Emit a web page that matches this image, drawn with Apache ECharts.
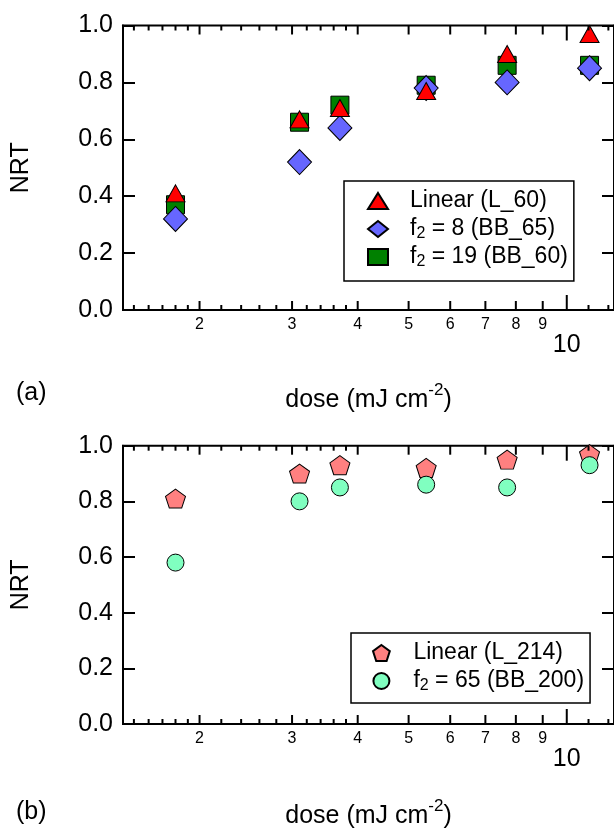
<!DOCTYPE html>
<html>
<head>
<meta charset="utf-8">
<script src="https://cdn.jsdelivr.net/npm/echarts@6/dist/echarts.min.js"></script>
<style>
  html, body { margin: 0; padding: 0; background: #fff; }
  #main { width: 614px; height: 835px; }
</style>
</head>
<body>
<div id="main"></div>
<script>
// doses (mJ cm-2) shared by both panels
var dose = [1.80, 3.10, 3.70, 5.40, 7.70, 11.05]

// panel (a)
var linearL60 = [0.41, 0.67, 0.71, 0.77, 0.90, 0.97]
var bb65 = [0.32, 0.52, 0.64, 0.78, 0.80, 0.85]
var bb60 = [0.37, 0.66, 0.72, 0.79, 0.86, 0.86]

// panel (b)
var linearL214 = [0.81, 0.90, 0.93, 0.92, 0.95, 0.97]
var bb200 = [0.58, 0.80, 0.85, 0.86, 0.85, 0.93]

// log axis ticks
var minorTicks = [1.5, 1.6, 1.7, 1.8, 1.9, 2.2, 2.4, 2.6, 2.8, 3.2, 3.4, 3.6, 3.8, 11, 12]
var majorTicks = [2, 3, 4, 5, 6, 7, 8, 9]
var decadeTicks = [10]

var FONT = 'Liberation Sans, Arial, sans-serif'
var pentagon = 'path://M0,-1 L0.951,-0.309 L0.588,0.809 L-0.588,0.809 L-0.951,-0.309 Z'

function pairs(ys) {
    return dose.map(function (d, i) { return [d, ys[i]] })
}

var tickData = []
minorTicks.forEach(function (v) { tickData.push([v, 0.5, 0]) })
majorTicks.forEach(function (v) { tickData.push([v, 0.5, 1]) })
decadeTicks.forEach(function (v) { tickData.push([v, 0.5, 2]) })

function renderTick(params, api) {
    var v = api.value(0)
    var kind = api.value(2)
    var cs = params.coordSys
    var x = api.coord([v, 0.5])[0]
    var len = kind === 2 ? 15 : (kind === 1 ? 9 : 5)
    var top = cs.y, bot = cs.y + cs.height
    var ls = { stroke: '#000', lineWidth: 2 }
    var children = [
        { type: 'line', shape: { x1: x, y1: bot, x2: x, y2: bot - len }, style: ls },
        { type: 'line', shape: { x1: x, y1: top, x2: x, y2: top + len }, style: ls }
    ]
    if (kind === 1) {
        children.push({ type: 'text', style: { text: String(v), x: x, y: bot + 14.5, fill: '#000', fontSize: 16, fontFamily: FONT, align: 'center', verticalAlign: 'middle' } })
    } else if (kind === 2) {
        children.push({ type: 'text', style: { text: String(v), x: x, y: bot + 35, fill: '#000', fontSize: 25, fontFamily: FONT, align: 'center', verticalAlign: 'middle' } })
    }
    return { type: 'group', children: children }
}

function xAxisFor(i, gap) {
    return {
        type: 'log', gridIndex: i, logBase: 10, min: 1.43, max: 12.3,
        axisLine: { lineStyle: { color: '#000', width: 2 } },
        axisTick: { show: false },
        axisLabel: { show: false },
        splitLine: { show: false },
        name: 'dose (mJ cm{sup|-2})',
        nameLocation: 'middle',
        nameGap: gap,
        nameTextStyle: {
            color: '#000', fontSize: 25, lineHeight: 36, fontFamily: FONT,
            rich: { sup: { fontSize: 17, lineHeight: 14, verticalAlign: 'top', fontFamily: FONT, color: '#000' } }
        }
    }
}

function yAxisLeft(i) {
    return {
        type: 'value', gridIndex: i, min: 0, max: 1, interval: 0.2,
        name: 'NRT', nameLocation: 'middle', nameGap: 89, nameRotate: 90,
        nameTextStyle: { color: '#000', fontSize: 25, fontFamily: FONT },
        axisLine: { show: true, lineStyle: { color: '#000', width: 2 } },
        axisTick: { show: true, inside: true, length: 12, lineStyle: { color: '#000', width: 2 } },
        axisLabel: { color: '#000', fontSize: 25, fontFamily: FONT, margin: 10, formatter: function (v) { return v.toFixed(1) } },
        splitLine: { show: false }
    }
}

function yAxisRight(i) {
    return {
        type: 'value', gridIndex: i, min: 0, max: 1, interval: 0.2, position: 'right',
        axisLine: { show: true, lineStyle: { color: '#000', width: 2 } },
        axisTick: { show: true, inside: true, length: 12, lineStyle: { color: '#000', width: 2 } },
        axisLabel: { show: false },
        splitLine: { show: false }
    }
}

function legendFor(left, top, names, pad) {
    return {
        left: left, top: top, orient: 'vertical',
        data: names, selectedMode: false,
        backgroundColor: '#fff',
        borderColor: '#000', borderWidth: 1.5, borderRadius: 0,
        padding: pad,
        itemWidth: 20, itemHeight: 16, itemGap: 2,
        formatter: function (n) { return n.replace('f2', 'f{sub|2}') },
        textStyle: {
            color: '#000', fontSize: 23, lineHeight: 26, fontFamily: FONT,
            padding: [0, 0, 0, 17],
            rich: { sub: { fontSize: 16, lineHeight: 12, verticalAlign: 'bottom', fontFamily: FONT, color: '#000' } }
        }
    }
}

var border = { borderColor: '#000', borderWidth: 1 }

var myChart = echarts.init(document.getElementById('main'), null, { renderer: 'canvas' })
myChart.setOption({
    animation: false,
    backgroundColor: '#fff',
    grid: [
        { left: 123, top: 25.5, width: 493, height: 284.5, show: true, borderColor: '#000', borderWidth: 2, backgroundColor: 'transparent' },
        { left: 123, top: 445.7, width: 493, height: 283, show: true, borderColor: '#000', borderWidth: 2, backgroundColor: 'transparent' }
    ],
    xAxis: [xAxisFor(0, 72), xAxisFor(1, 74)],
    yAxis: [yAxisLeft(0), yAxisRight(0), yAxisLeft(1), yAxisRight(1)],
    legend: [
        legendFor(344, 181, ['Linear (L_60)', 'f2 = 8 (BB_65)', 'f2 = 19 (BB_60)'], [7, 6, 11, 23]),
        legendFor(351, 633, ['Linear (L_214)', 'f2 = 65 (BB_200)'], [7, 6, 9, 21])
    ],
    graphic: [
        { type: 'text', left: 16, top: 381, style: { text: '(a)', fontSize: 25, fontFamily: FONT, fill: '#000' } },
        { type: 'text', left: 16, top: 800, style: { text: '(b)', fontSize: 25, fontFamily: FONT, fill: '#000' } }
    ],
    series: [
        {
            name: 'f2 = 19 (BB_60)', type: 'scatter', xAxisIndex: 0, yAxisIndex: 0, z: 2,
            symbol: 'rect', symbolSize: 18, itemStyle: Object.assign({ color: '#008000', opacity: 1 }, border),
            data: pairs(bb60)
        },
        {
            name: 'f2 = 8 (BB_65)', type: 'scatter', xAxisIndex: 0, yAxisIndex: 0, z: 3,
            symbol: 'diamond', symbolSize: [24, 25], itemStyle: Object.assign({ color: '#6666ff', opacity: 1 }, border),
            data: pairs(bb65)
        },
        {
            name: 'Linear (L_60)', type: 'scatter', xAxisIndex: 0, yAxisIndex: 0, z: 4,
            symbol: 'triangle', symbolSize: [19, 17], itemStyle: Object.assign({ color: '#ff0000', opacity: 1 }, border),
            data: pairs(linearL60)
        },
        {
            name: 'Linear (L_214)', type: 'scatter', xAxisIndex: 1, yAxisIndex: 2, z: 2,
            symbol: pentagon, symbolSize: [20, 19], itemStyle: Object.assign({ color: '#ff8080', opacity: 1 }, border),
            data: pairs(linearL214)
        },
        {
            name: 'f2 = 65 (BB_200)', type: 'scatter', xAxisIndex: 1, yAxisIndex: 2, z: 3,
            symbol: 'circle', symbolSize: 17, itemStyle: Object.assign({ color: '#80ffc0', opacity: 1 }, border),
            data: pairs(bb200)
        },
        {
            type: 'custom', xAxisIndex: 0, yAxisIndex: 0, silent: true, clip: false, z: 5,
            encode: { x: 0, y: 1 }, renderItem: renderTick, data: tickData
        },
        {
            type: 'custom', xAxisIndex: 1, yAxisIndex: 2, silent: true, clip: false, z: 5,
            encode: { x: 0, y: 1 }, renderItem: renderTick, data: tickData
        }
    ]
})
</script>
</body>
</html>
